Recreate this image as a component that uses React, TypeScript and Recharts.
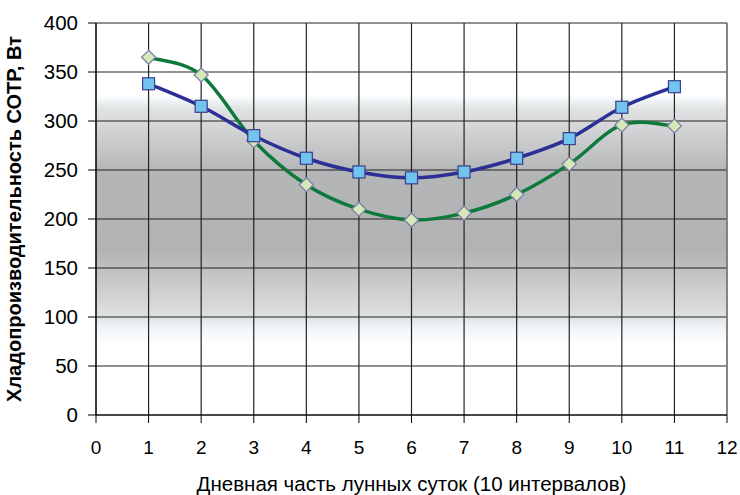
import React from 'react';
import { LineChart, Line, XAxis, YAxis, CartesianGrid, ReferenceLine } from 'recharts';

// Интервалы дневной части лунных суток
const intervals = [1, 2, 3, 4, 5, 6, 7, 8, 9, 10, 11];
// Хладопроизводительность, Вт
const seriesBlue = [338, 315, 285, 262, 248, 242, 248, 262, 282, 314, 335];
const seriesGreen = [365, 347, 280, 235, 210, 199, 206, 225, 256, 296, 295];

const xTicks = [0, 1, 2, 3, 4, 5, 6, 7, 8, 9, 10, 11, 12];
const yTicks = [0, 50, 100, 150, 200, 250, 300, 350, 400];

const data = intervals.map((x, i) => ({ x, blue: seriesBlue[i], green: seriesGreen[i] }));

const font = '"Liberation Sans", Arial, sans-serif';

// Excel-like smoothing (Catmull-Rom through the points)
const smoothCurve: any = (context: any) => {
  let pts: number[][] = [];
  return {
    areaStart() {},
    areaEnd() {},
    lineStart() {
      pts = [];
    },
    point(x: number, y: number) {
      pts.push([+x, +y]);
    },
    lineEnd() {
      const n = pts.length;
      if (!n) return;
      context.moveTo(pts[0][0], pts[0][1]);
      for (let i = 0; i < n - 1; i++) {
        const p0 = pts[i - 1] || pts[i];
        const p1 = pts[i];
        const p2 = pts[i + 1];
        const p3 = pts[i + 2] || p2;
        context.bezierCurveTo(
          p1[0] + (p2[0] - p0[0]) / 6,
          p1[1] + (p2[1] - p0[1]) / 6,
          p2[0] - (p3[0] - p1[0]) / 6,
          p2[1] - (p3[1] - p1[1]) / 6,
          p2[0],
          p2[1]
        );
      }
    },
  };
};

const SquareDot = (props: any) => {
  const { cx, cy, index } = props;
  if (cx == null || cy == null) return <g key={`s-${index}`} />;
  return (
    <rect key={`s-${index}`} x={cx - 6} y={cy - 6} width={12} height={12}
      fill="#72c3ee" stroke="#3a3f8f" strokeWidth={1.2} />
  );
};

const DiamondDot = (props: any) => {
  const { cx, cy, index } = props;
  if (cx == null || cy == null) return <g key={`d-${index}`} />;
  const r = 7;
  return (
    <path key={`d-${index}`} d={`M${cx},${cy - r}L${cx + r},${cy}L${cx},${cy + r}L${cx - r},${cy}Z`}
      fill="#d5e8b8" stroke="#7e80a8" strokeWidth={1.3} />
  );
};

const App: React.FC = () => {
  return (
    <div style={{ position: 'absolute', left: 0, top: 0, width: 740, height: 495, background: '#fff' }}>
      <LineChart width={740} height={495} data={data} margin={{ top: 23, right: 13, left: 0, bottom: 0 }}>
        <defs>
          <linearGradient id="plotBg" x1="0" y1="0" x2="0" y2="1">
            <stop offset="0" stopColor="#ffffff" />
            <stop offset="0.185" stopColor="#ffffff" />
            <stop offset="0.2" stopColor="#eef3f5" />
            <stop offset="0.22" stopColor="#e0e2e3" />
            <stop offset="0.38" stopColor="#b4b5b6" />
            <stop offset="0.58" stopColor="#b2b3b4" />
            <stop offset="0.74" stopColor="#dcdedf" />
            <stop offset="0.78" stopColor="#f0f6f8" />
            <stop offset="0.82" stopColor="#ffffff" />
            <stop offset="1" stopColor="#ffffff" />
          </linearGradient>
        </defs>
        <CartesianGrid fill="url(#plotBg)" fillOpacity={1} stroke="#222" strokeWidth={1.2} />
        <XAxis
          dataKey="x"
          type="number"
          domain={[0, 12]}
          ticks={xTicks}
          interval={0}
          height={80}
          tickSize={8}
          tickMargin={18}
          stroke="#000"
          tick={{ fill: '#000', fontSize: 19, fontFamily: font }}
          label={{
            value: 'Дневная часть лунных суток (10 интервалов)',
            position: 'insideBottom',
            offset: 4,
            fill: '#000',
            fontSize: 20.5,
            fontFamily: font,
          }}
        />
        <YAxis
          type="number"
          domain={[0, 400]}
          ticks={yTicks}
          interval={0}
          width={96}
          tickSize={8}
          tickMargin={10}
          stroke="#000"
          tick={{ fill: '#000', fontSize: 20.5, fontFamily: font }}
          label={{
            value: 'Хладопроизводительность СОТР, Вт',
            angle: -90,
            position: 'insideLeft',
            offset: 14,
            style: { textAnchor: 'middle' },
            fill: '#000',
            fontSize: 20,
            fontWeight: 'bold',
            fontFamily: font,
          }}
        />
        <ReferenceLine x={12} stroke="#8a8a8a" strokeWidth={1.5} />
        <Line
          dataKey="green"
          type={smoothCurve}
          stroke="#0d7a3c"
          strokeWidth={3.5}
          dot={DiamondDot}
          activeDot={false}
          isAnimationActive={false}
        />
        <Line
          dataKey="blue"
          type={smoothCurve}
          stroke="#2b2f96"
          strokeWidth={3.5}
          dot={SquareDot}
          activeDot={false}
          isAnimationActive={false}
        />
      </LineChart>
    </div>
  );
};

export default App;
